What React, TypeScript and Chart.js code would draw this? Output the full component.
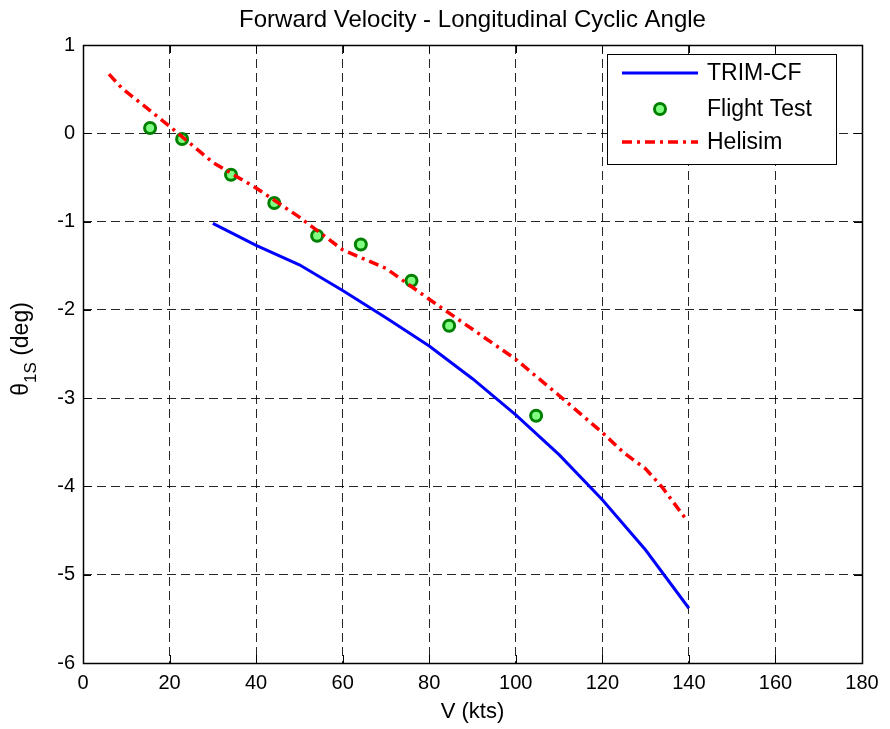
import React, { useEffect, useRef } from "react";
import { Chart, registerables } from "chart.js";

Chart.register(...registerables);

const trimV = [30, 40, 50, 60, 70, 80, 90, 100, 110, 120, 130, 140];
const trimTheta = [-1.02, -1.27, -1.49, -1.78, -2.09, -2.41, -2.78, -3.19, -3.64, -4.15, -4.72, -5.38];

const flightV = [15.5, 22.9, 34.2, 44.2, 54.1, 64.2, 75.9, 84.6, 104.7];
const flightTheta = [0.06, -0.065, -0.47, -0.79, -1.16, -1.26, -1.67, -2.18, -3.2];

const heliV = [6, 9, 20, 30, 40, 50, 60, 70, 80, 90, 100, 110, 120, 125, 130, 134, 139];
const heliTheta = [0.67, 0.51, 0.08, -0.33, -0.62, -0.95, -1.32, -1.53, -1.88, -2.22, -2.56, -2.97, -3.39, -3.62, -3.8, -4.02, -4.35];

const xTicks = [0, 20, 40, 60, 80, 100, 120, 140, 160, 180];
const yTicks = [1, 0, -1, -2, -3, -4, -5, -6];

const titleText = "Forward Velocity - Longitudinal Cyclic Angle";
const xTitle = "V (kts)";
const legendLabels = ["TRIM-CF", "Flight Test", "Helisim"];

const FONT = "'Liberation Sans', Arial, sans-serif";

const BLUE = "#0000FF";
const RED = "#FF0000";
const GREEN_EDGE = "#008000";
const GREEN_FACE = "#80FF80";

const boxPlugin = {
  id: "matlabBox",
  afterDraw(chart: any) {
    const { ctx, chartArea } = chart;
    const { left, top, right, bottom } = chartArea;
    ctx.save();
    // title
    ctx.fillStyle = "#000";
    ctx.font = `24px ${FONT}`;
    ctx.textAlign = "center";
    ctx.textBaseline = "alphabetic";
    ctx.fillText(titleText, (left + right) / 2, 27);

    // inward ticks
    ctx.strokeStyle = "#000";
    ctx.lineWidth = 1;
    ctx.setLineDash([]);
    const xs = chart.scales.x;
    const ys = chart.scales.y;
    const tl = 8;
    ctx.beginPath();
    for (const v of xTicks) {
      const px = Math.round(xs.getPixelForValue(v)) + 0.5;
      ctx.moveTo(px, bottom);
      ctx.lineTo(px, bottom - tl);
      ctx.moveTo(px, top);
      ctx.lineTo(px, top + tl);
    }
    for (const v of yTicks) {
      const py = Math.round(ys.getPixelForValue(v)) + 0.5;
      ctx.moveTo(left, py);
      ctx.lineTo(left + tl, py);
      ctx.moveTo(right, py);
      ctx.lineTo(right - tl, py);
    }
    ctx.stroke();
    // box
    ctx.strokeStyle = "#000";
    ctx.lineWidth = 1.5;
    ctx.strokeRect(Math.round(left) + 0.5, Math.round(top) + 0.5, Math.round(right - left), Math.round(bottom - top));

    // y axis title with subscript
    const cy = 349;
    ctx.translate(28, cy);
    ctx.rotate(-Math.PI / 2);
    ctx.fillStyle = "#000";
    ctx.textBaseline = "alphabetic";
    ctx.textAlign = "left";
    const mainFont = `23px ${FONT}`;
    const subFont = `17px ${FONT}`;
    ctx.font = mainFont;
    const wTheta = ctx.measureText("\u03B8").width;
    const wRest = ctx.measureText(" (deg)").width;
    ctx.font = subFont;
    const wSub = ctx.measureText("1S").width;
    const total = wTheta + wSub + wRest;
    let x0 = -total / 2;
    ctx.font = mainFont;
    ctx.fillText("\u03B8", x0, 0);
    x0 += wTheta;
    ctx.font = subFont;
    ctx.fillText("1S", x0, 8);
    x0 += wSub;
    ctx.font = mainFont;
    ctx.fillText(" (deg)", x0, 0);
    ctx.restore();

    // legend
    ctx.save();
    const lx = 607.5, ly = 54.5, lw = 229, lh = 110;
    ctx.fillStyle = "#fff";
    ctx.fillRect(lx, ly, lw, lh);
    ctx.strokeStyle = "#000";
    ctx.lineWidth = 1;
    ctx.strokeRect(lx, ly, lw, lh);
    const rows = [73, 109, 142];
    const sx0 = 622, sx1 = 698;
    ctx.strokeStyle = BLUE;
    ctx.lineWidth = 3;
    ctx.beginPath();
    ctx.moveTo(sx0, rows[0]);
    ctx.lineTo(sx1, rows[0]);
    ctx.stroke();
    ctx.beginPath();
    ctx.arc((sx0 + sx1) / 2, rows[1], 5.5, 0, Math.PI * 2);
    ctx.fillStyle = GREEN_FACE;
    ctx.fill();
    ctx.strokeStyle = GREEN_EDGE;
    ctx.lineWidth = 3;
    ctx.stroke();
    ctx.strokeStyle = RED;
    ctx.lineWidth = 3.5;
    ctx.setLineDash([10, 5, 3, 5]);
    ctx.beginPath();
    ctx.moveTo(sx0, rows[2]);
    ctx.lineTo(sx1, rows[2]);
    ctx.stroke();
    ctx.setLineDash([]);
    ctx.fillStyle = "#000";
    ctx.font = `23px ${FONT}`;
    ctx.textBaseline = "middle";
    ctx.textAlign = "left";
    legendLabels.forEach((t, i) => ctx.fillText(t, 707, rows[i] + 1));
    ctx.restore();
  },
};

export default function App() {
  const ref = useRef<HTMLCanvasElement | null>(null);
  useEffect(() => {
    if (!ref.current) return;
    const chart = new Chart(ref.current, {
      type: "scatter",
      data: {
        datasets: [
          {
            label: legendLabels[0],
            data: trimV.map((v, i) => ({ x: v, y: trimTheta[i] })),
            showLine: true,
            borderColor: BLUE,
            backgroundColor: BLUE,
            borderWidth: 3,
            pointRadius: 0,
            tension: 0,
          },
          {
            label: legendLabels[2],
            data: heliV.map((v, i) => ({ x: v, y: heliTheta[i] })),
            showLine: true,
            borderColor: RED,
            backgroundColor: RED,
            borderWidth: 3.5,
            borderDash: [10, 5, 3, 5],
            pointRadius: 0,
            tension: 0,
          },
          {
            label: legendLabels[1],
            data: flightV.map((v, i) => ({ x: v, y: flightTheta[i] })),
            showLine: false,
            borderColor: GREEN_EDGE,
            backgroundColor: GREEN_FACE,
            borderWidth: 3,
            pointRadius: 5.5,
          },
        ],
      },
      options: {
        animation: false,
        responsive: false,
        layout: { padding: { left: 0, right: 28, top: 45, bottom: 0 } },
        plugins: {
          legend: { display: false },
          tooltip: { enabled: false },
          title: { display: false },
        },
        scales: {
          x: {
            type: "linear",
            min: 0,
            max: 180,
            afterFit: (s: any) => {
              s.height = 66;
            },
            afterBuildTicks: (s: any) => {
              s.ticks = xTicks.map((v) => ({ value: v }));
            },
            ticks: {
              color: "#000",
              font: { family: FONT, size: 20 },
              padding: 8,
              maxRotation: 0,
            },
            grid: {
              color: "rgba(0,0,0,0.85)",
              lineWidth: 1,
              drawTicks: false,
            },
            border: { display: false, dash: [9, 5] },
            title: {
              display: true,
              text: xTitle,
              color: "#000",
              font: { family: FONT, size: 22 },
              padding: { top: 0, bottom: 4 },
            },
          },
          y: {
            type: "linear",
            min: -6,
            max: 1,
            afterFit: (s: any) => {
              s.width = 83;
            },
            afterBuildTicks: (s: any) => {
              s.ticks = yTicks.map((v) => ({ value: v }));
            },
            ticks: {
              color: "#000",
              font: { family: FONT, size: 20 },
              padding: 8,
            },
            grid: {
              color: "rgba(0,0,0,0.85)",
              lineWidth: 1,
              drawTicks: false,
            },
            border: { display: false, dash: [9, 5] },
          },
        },
      },
      plugins: [boxPlugin],
    } as any);
    return () => chart.destroy();
  }, []);
  return (
    <div style={{ position: "absolute", left: 0, top: 0, width: 890, height: 729, background: "#fff" }}>
      <canvas ref={ref} width={890} height={729} style={{ display: "block", width: 890, height: 729 }} />
    </div>
  );
}
